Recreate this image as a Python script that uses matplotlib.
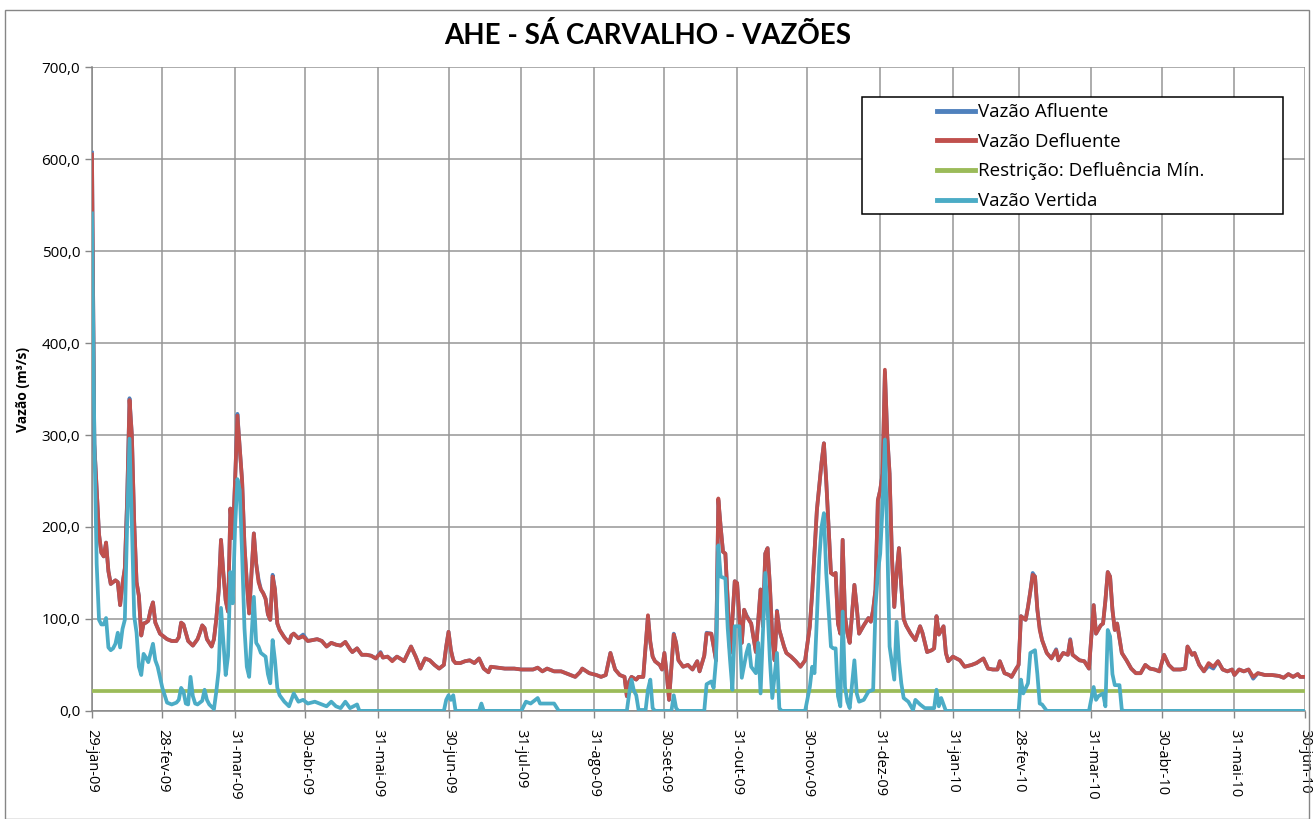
import matplotlib
matplotlib.use("Agg")
import matplotlib.pyplot as plt
from matplotlib.patches import Rectangle
from matplotlib.lines import Line2D
import pandas as pd

# dados: (dias desde 29-jan-09, vazao m3/s)
inicio = pd.Timestamp("2009-01-29")

defluente = [(0,605),(1,290),(2,240),(3,192),(4,172),(5,168),(6,183),(7,152),(8,138),(9,140),(10,142),(11,140),(12,115),(13,138),(14,155),(15,230),(16,338),(17,300),(18,205),(19,140),(20,125),(21,82),(22,95),(23,96),(24,98),(25,110),(26,118),(27,96),(28,90),(29,84),(30,82),(32,78),(34,76),(36,76),(37,80),(38,96),(39,94),(40,85),(41,76),(43,71),(45,78),(46,85),(47,93),(48,90),(49,78),(51,70),(52,78),(53,100),(54,130),(55,186),(56,150),(57,120),(58,108),(59,220),(60,188),(61,250),(62,321),(63,285),(64,250),(65,180),(66,140),(67,106),(68,150),(69,193),(70,160),(71,140),(72,132),(73,128),(74,122),(75,105),(76,99),(77,146),(78,132),(79,95),(80,88),(82,80),(84,74),(85,82),(86,84),(88,79),(90,81),(92,76),(94,77),(96,78),(98,76),(100,70),(102,74),(104,72),(106,71),(108,75),(110,67),(111,64),(113,68),(115,61),(117,61),(119,60),(121,57),(123,63),(124,58),(126,59),(128,54),(130,59),(132,56),(133,54),(136,70),(138,59),(140,46),(142,57),(144,55),(146,50),(148,46),(150,50),(151,70),(152,86),(153,66),(154,55),(155,52),(157,52),(159,54),(161,55),(163,52),(165,57),(167,46),(169,42),(170,48),(173,47),(176,46),(180,46),(183,45),(186,45),(188,45),(190,47),(192,43),(194,46),(197,43),(200,43),(202,41),(204,39),(206,37),(208,42),(209,46),(212,41),(215,39),(217,37),(219,39),(221,63),(223,45),(225,39),(227,37),(228,16),(229,32),(230,37),(232,34),(233,37),(235,37),(236,70),(237,104),(238,75),(239,59),(240,54),(242,50),(243,45),(244,63),(245,40),(246,12),(247,48),(248,83),(249,74),(250,55),(252,48),(254,50),(256,45),(258,54),(259,43),(261,60),(262,84),(264,84),(265,70),(266,55),(267,231),(268,200),(269,173),(270,171),(271,120),(272,63),(273,100),(274,141),(275,139),(276,100),(277,74),(278,110),(279,103),(281,95),(283,64),(285,132),(286,92),(287,171),(288,177),(289,135),(290,80),(291,55),(292,108),(293,88),(295,70),(296,63),(298,59),(300,54),(302,48),(304,55),(306,92),(307,128),(309,218),(311,270),(312,291),(313,250),(314,200),(315,150),(316,148),(317,150),(318,95),(319,84),(320,186),(321,103),(322,85),(323,74),(325,137),(326,113),(327,84),(329,93),(331,101),(332,97),(333,110),(334,132),(335,229),(336,240),(337,258),(338,371),(339,300),(340,258),(341,168),(342,113),(343,150),(344,177),(345,135),(346,100),(347,93),(349,84),(351,77),(353,92),(354,85),(356,64),(358,66),(359,68),(360,103),(361,83),(363,92),(364,63),(365,54),(367,59),(370,55),(372,48),(375,50),(377,52),(380,57),(382,46),(384,45),(386,45),(387,54),(389,41),(391,39),(392,37),(394,46),(395,50),(396,103),(398,99),(399,113),(400,130),(401,148),(402,146),(403,110),(404,88),(405,77),(407,63),(409,57),(411,66),(412,55),(414,63),(416,61),(417,77),(418,61),(421,55),(423,54),(425,46),(426,80),(427,115),(428,84),(430,93),(431,95),(432,120),(433,151),(434,146),(435,110),(436,88),(437,95),(439,63),(441,55),(443,46),(445,41),(447,41),(449,50),(451,46),(453,45),(455,43),(457,61),(459,50),(461,45),(464,45),(466,46),(467,70),(469,61),(470,63),(472,50),(474,43),(476,52),(478,48),(480,54),(482,45),(484,43),(486,45),(487,39),(489,45),(491,43),(493,45),(495,37),(497,41),(500,39),(503,39),(506,38),(508,36),(510,40),(512,37),(514,40),(515,37),(517,37)]

afluente = [(0,607),(1,290),(2,240),(3,192),(4,172),(5,168),(6,183),(7,152),(8,138),(9,140),(10,142),(11,140),(12,115),(13,138),(14,155),(15,230),(16,340),(17,300),(18,205),(19,140),(20,125),(21,82),(22,95),(23,96),(24,98),(25,110),(26,118),(27,96),(28,90),(29,84),(30,82),(32,78),(34,76),(36,76),(37,80),(38,96),(39,94),(40,85),(41,76),(43,71),(45,78),(46,85),(47,93),(48,90),(49,78),(51,70),(52,78),(53,100),(54,130),(55,186),(56,150),(57,120),(58,108),(59,220),(60,188),(61,250),(62,323),(63,285),(64,250),(65,180),(66,140),(67,106),(68,150),(69,193),(70,160),(71,143),(72,132),(73,128),(74,122),(75,105),(76,99),(77,148),(78,132),(79,95),(80,88),(82,80),(84,74),(85,82),(86,84),(88,79),(90,83),(92,76),(94,77),(96,78),(98,76),(100,70),(102,74),(104,72),(106,71),(108,75),(110,67),(111,64),(113,68),(115,61),(117,61),(119,60),(121,57),(123,64),(124,58),(126,59),(128,55),(130,59),(132,56),(133,54),(136,70),(138,59),(140,46),(142,57),(144,55),(146,50),(148,46),(150,50),(151,70),(152,86),(153,66),(154,55),(155,52),(157,52),(159,54),(161,55),(163,52),(165,57),(167,46),(169,42),(170,48),(173,47),(176,46),(180,46),(183,45),(186,45),(188,45),(190,47),(192,43),(194,46),(197,43),(200,43),(202,41),(204,39),(206,37),(208,42),(209,46),(212,41),(215,39),(217,37),(219,39),(221,63),(223,45),(225,39),(227,37),(228,16),(229,32),(230,37),(232,34),(233,37),(235,37),(236,70),(237,103),(238,75),(239,59),(240,54),(242,50),(243,45),(244,63),(245,40),(246,12),(247,48),(248,84),(249,74),(250,55),(252,48),(254,50),(256,45),(258,54),(259,43),(261,60),(262,85),(264,84),(265,70),(266,55),(267,229),(268,200),(269,173),(270,171),(271,120),(272,63),(273,100),(274,141),(275,139),(276,100),(277,74),(278,110),(279,104),(281,95),(283,64),(285,132),(286,92),(287,171),(288,177),(289,135),(290,80),(291,55),(292,109),(293,88),(295,70),(296,63),(298,59),(300,54),(302,48),(304,55),(306,92),(307,128),(309,218),(311,270),(312,291),(313,250),(314,200),(315,150),(316,148),(317,150),(318,95),(319,84),(320,186),(321,103),(322,85),(323,74),(325,137),(326,113),(327,84),(329,93),(331,101),(332,97),(333,110),(334,132),(335,229),(336,240),(337,258),(338,368),(339,300),(340,258),(341,168),(342,113),(343,150),(344,177),(345,135),(346,100),(347,93),(349,84),(351,77),(353,92),(354,85),(356,64),(358,66),(359,68),(360,103),(361,83),(363,92),(364,63),(365,54),(367,59),(370,55),(372,48),(375,50),(377,52),(380,57),(382,46),(384,45),(386,45),(387,54),(389,41),(391,39),(392,37),(394,46),(395,50),(396,103),(398,99),(399,113),(400,130),(401,150),(402,146),(403,110),(404,90),(405,77),(407,63),(409,57),(411,67),(412,55),(414,63),(416,61),(417,78),(418,61),(421,55),(423,54),(425,46),(426,80),(427,115),(428,84),(430,93),(431,95),(432,120),(433,151),(434,146),(435,110),(436,88),(437,95),(439,63),(441,55),(443,46),(445,41),(447,41),(449,50),(451,46),(453,45),(455,43),(457,61),(459,50),(461,45),(464,45),(466,46),(467,70),(469,61),(470,63),(472,50),(474,43),(476,49),(478,46),(480,54),(482,45),(484,43),(486,45),(487,39),(489,45),(491,43),(493,45),(495,35),(497,41),(500,39),(503,39),(506,38),(508,36),(510,40),(512,37),(514,40),(515,37),(517,37)]

vertida = [(0,541),(1,300),(2,160),(3,99),(4,94),(5,94),(6,101),(7,69),(8,66),(9,68),(10,73),(11,85),(12,69),(13,89),(14,99),(15,204),(16,296),(17,204),(18,103),(19,85),(20,48),(21,39),(22,62),(23,58),(24,53),(26,73),(27,55),(28,48),(30,25),(32,9),(34,7),(36,9),(37,12),(38,25),(39,21),(40,8),(41,7),(42,37),(43,16),(44,8),(45,7),(47,11),(48,23),(49,12),(50,7),(52,2),(53,21),(54,44),(55,112),(56,76),(57,39),(58,60),(59,151),(60,117),(61,200),(62,252),(63,240),(64,170),(65,90),(66,48),(67,37),(68,80),(69,124),(70,74),(71,70),(72,63),(74,59),(75,40),(76,30),(77,77),(78,55),(79,25),(80,17),(82,10),(84,5),(85,12),(86,19),(88,10),(90,12),(92,8),(95,10),(97,8),(100,5),(102,10),(104,5),(106,3),(108,10),(110,3),(113,7),(114,0),(150,0),(151,12),(152,17),(153,12),(154,17),(155,0),(165,0),(166,8),(167,0),(183,0),(185,10),(187,8),(189,12),(190,14),(191,8),(197,8),(199,0),(228,0),(229,19),(230,34),(231,22),(232,17),(233,1),(236,1),(237,23),(238,34),(239,3),(240,0),(247,0),(248,17),(249,3),(250,0),(261,0),(262,29),(264,32),(265,25),(266,55),(267,180),(268,146),(270,144),(271,90),(272,55),(273,23),(274,92),(276,92),(277,36),(279,63),(280,72),(281,48),(283,41),(284,74),(285,19),(287,150),(288,110),(289,55),(290,14),(292,63),(293,3),(294,0),(304,0),(306,26),(307,48),(308,41),(309,100),(310,164),(311,200),(312,215),(313,150),(315,70),(316,68),(317,68),(318,16),(319,5),(320,108),(321,26),(322,10),(323,3),(325,55),(326,19),(327,10),(329,12),(331,21),(333,23),(334,113),(335,150),(336,171),(337,222),(338,295),(339,186),(340,70),(342,34),(343,97),(344,55),(345,30),(346,14),(348,10),(350,1),(351,12),(353,7),(355,3),(359,3),(360,23),(361,5),(362,14),(364,0),(395,0),(396,34),(397,19),(399,30),(400,63),(402,66),(403,40),(404,8),(405,7),(407,0),(425,0),(427,26),(428,12),(429,16),(431,19),(432,5),(433,88),(434,81),(435,40),(436,28),(438,28),(439,1),(440,0),(517,0)]

restricao_min = 21.6

datas_ticks = ["2009-01-29", "2009-02-28", "2009-03-31", "2009-04-30", "2009-05-31", "2009-06-30",
               "2009-07-31", "2009-08-31", "2009-09-30", "2009-10-31", "2009-11-30", "2009-12-31",
               "2010-01-31", "2010-02-28", "2010-03-31", "2010-04-30", "2010-05-31", "2010-06-30"]
rotulos_x = ["29-jan-09", "28-fev-09", "31-mar-09", "30-abr-09", "31-mai-09", "30-jun-09",
             "31-jul-09", "31-ago-09", "30-set-09", "31-out-09", "30-nov-09", "31-dez-09",
             "31-jan-10", "28-fev-10", "31-mar-10", "30-abr-10", "31-mai-10", "30-jun-10"]
ticks_y = [0, 100, 200, 300, 400, 500, 600, 700]

cores = {"afl": "#4F81BD", "def": "#C0504D", "res": "#9BBB59", "ver": "#4BACC6"}


def serie(pontos):
    dias = [p[0] for p in pontos]
    vals = [p[1] for p in pontos]
    return inicio + pd.to_timedelta(dias, unit="D"), vals


plt.rcParams["font.family"] = ["Open Sans", "DejaVu Sans"]

fig = plt.figure(figsize=(13.14, 8.19), dpi=100)
ax = fig.add_axes([0.070, 0.132, 0.923, 0.786])

x_a, y_a = serie(afluente)
x_d, y_d = serie(defluente)
x_v, y_v = serie(vertida)
fim = pd.Timestamp(datas_ticks[-1])

lw = 2.7
ax.plot(x_a, y_a, color=cores["afl"], lw=lw, zorder=3)
ax.plot(x_d, y_d, color=cores["def"], lw=lw, zorder=4)
ax.plot([inicio, fim], [restricao_min, restricao_min], color=cores["res"], lw=lw, zorder=5)
ax.plot(x_v, y_v, color=cores["ver"], lw=lw, zorder=6)

ax.set_xlim(inicio, fim)
ax.set_ylim(0, 700)
ax.set_xticks([pd.Timestamp(d) for d in datas_ticks])
ax.set_xticklabels(rotulos_x, rotation=270, fontsize=10.5)
ax.set_yticks(ticks_y)
ax.set_yticklabels([f"{v:.1f}".replace(".", ",") for v in ticks_y], fontsize=11)
ax.tick_params(axis="both", direction="out", length=5, color="#868686", width=1)
ax.tick_params(axis="x", pad=8)

ax.grid(True, color="#969696", lw=1.1)
ax.set_axisbelow(True)
for s in ["top", "right"]:
    ax.spines[s].set_visible(False)
for s in ["left", "bottom"]:
    ax.spines[s].set_color("#868686")
    ax.spines[s].set_linewidth(1.1)

ax.set_ylabel("Vazão (m³/s)", fontsize=10, fontweight="bold", labelpad=8)

fig.text(0.493, 0.957, "AHE - SÁ CARVALHO - VAZÕES", ha="center", va="center",
         fontsize=20, fontweight="bold", family=["Lato", "DejaVu Sans"])

# caixa da legenda
ax.add_patch(Rectangle((0.635, 0.772), 0.347, 0.181, transform=ax.transAxes,
                       facecolor="white", edgecolor="black", lw=1.1, zorder=10))
handles = [Line2D([], [], color=cores[k], lw=3.5) for k in ["afl", "def", "res", "ver"]]
nomes = ["Vazão Afluente", "Vazão Defluente", "Restrição: Defluência Mín.", "Vazão Vertida"]
leg = ax.legend(handles, nomes, loc="upper left", bbox_to_anchor=(0.697, 0.944),
                frameon=False, fontsize=13.5, handlelength=2.0, handletextpad=0.15,
                labelspacing=0.62, borderpad=0, borderaxespad=0)
leg.set_zorder(11)

# moldura externa
fig.patches.append(Rectangle((0.004, 0.0), 0.992, 0.988, transform=fig.transFigure,
                             fill=False, edgecolor="#868686", lw=1))

fig.savefig("out.png", dpi=100)
